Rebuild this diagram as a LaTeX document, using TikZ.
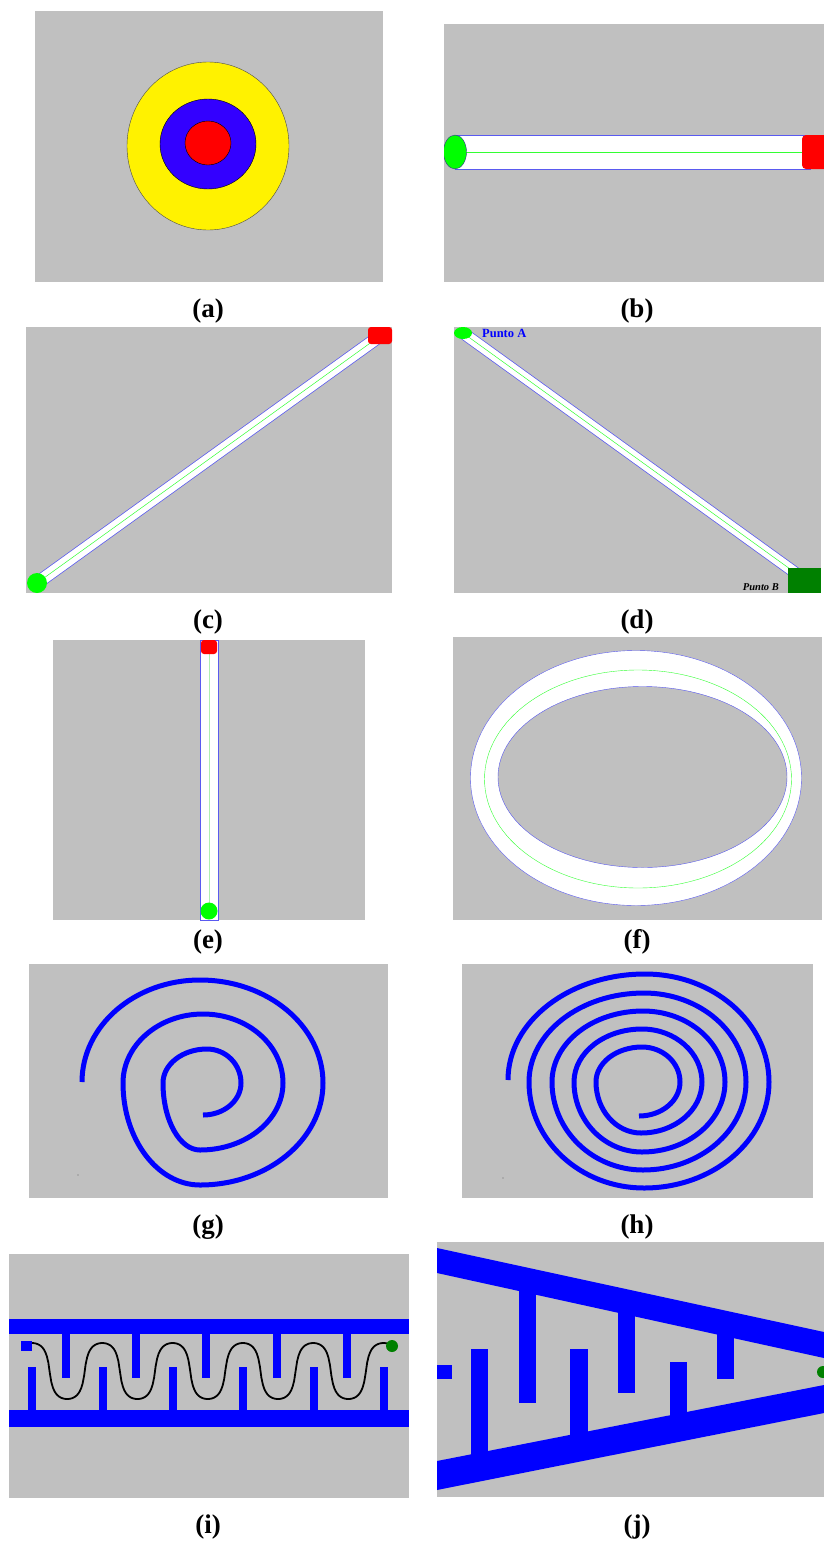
\documentclass[tikz,border=0pt]{standalone}
\usepackage{fontspec}
\setmainfont{Liberation Serif}
\definecolor{panelgray}{HTML}{C0C0C0}
\definecolor{tubeblue}{HTML}{5A5AF0}
\definecolor{tubegreen}{HTML}{33FF33}
\definecolor{palegreen}{HTML}{B0F0B0}
\definecolor{startgreen}{HTML}{00FF00}
\definecolor{darkgreen}{HTML}{008000}
\definecolor{ringblue}{HTML}{3300FF}
\definecolor{mazeblue}{HTML}{0000FF}
\begin{document}
\begin{tikzpicture}[x=1pt,y=-1pt,
    panel/.style={fill=panelgray},
    caption/.style={font=\fontsize{27}{30}\selectfont\bfseries},
    spiral/.style={mazeblue,line width=5pt},
    wall/.style={fill=mazeblue}]
\useasboundingbox (0,0) rectangle (824,1542);

% (a) target
\fill[panel] (35,11) rectangle (383,282);
\filldraw[fill=yellow,draw=black!70,thin] (208,146) circle[x radius=81pt,y radius=84pt];
\filldraw[fill=ringblue,draw=black,thin] (208,144) circle[x radius=48pt,y radius=45pt];
\filldraw[fill=red,draw=black,thin] (208,143) circle[x radius=23pt,y radius=22pt];
\node[caption] (lab-a) at (208,311) {(a)};

% (b) horizontal tube
\begin{scope}
    \clip (444,24) rectangle (824,282);
    \fill[panel] (444,24) rectangle (824,282);
    \coordinate (b-start) at (455,152);
    \coordinate (b-end) at (810,152);
    \filldraw[fill=white,draw=tubeblue] (455,135) rectangle (810,169);
    \draw[tubegreen,thin] (b-start) -- (b-end);
    \fill[red,rounded corners=4pt] (802,135) rectangle (834,169);
    \filldraw[fill=startgreen,draw=tubeblue!60!black] (b-start) circle[x radius=11.5pt,y radius=17pt];
\end{scope}
\node[caption] (lab-b) at (637,311) {(b)};

% (c) rising diagonal
\fill[panel] (26,327) rectangle (392,593);
\coordinate (c-start) at (37,583);
\coordinate (c-end) at (380,336);
\draw[tubeblue,line width=13pt] (c-start) -- (c-end);
\draw[white,line width=11.5pt] (c-start) -- (c-end);
\draw[tubegreen,line width=0.5pt] (c-start) -- (c-end);
\fill[red,rounded corners=3pt] (368,327) rectangle (392,344);
\fill[startgreen] (c-start) circle (10pt);
\node[caption] (lab-c) at (208,622) {(c)};

% (d) falling diagonal
\fill[panel] (454,327) rectangle (821,593);
\coordinate (d-start) at (463,333);
\coordinate (d-end) at (797,574);
\draw[tubeblue,line width=12pt] (d-start) -- (d-end);
\draw[white,line width=10.5pt] (d-start) -- (d-end);
\draw[tubegreen,line width=0.5pt] (d-start) -- (d-end);
\fill[darkgreen] (788,568) rectangle (821,593);
\fill[startgreen] (d-start) circle[x radius=9pt,y radius=6pt];
\node[anchor=west,inner sep=0pt,text=mazeblue,font=\fontsize{12.5}{14}\selectfont\bfseries]
    (punto-a) at (482,333) {Punto A};
\node[anchor=east,inner sep=0pt,font=\fontsize{10.5}{12}\selectfont\bfseries\itshape]
    (punto-b) at (779,587) {Punto B};
\node[caption] (lab-d) at (637,622) {(d)};

% (e) vertical tube
\fill[panel] (53,640) rectangle (365,920);
\coordinate (e-start) at (209,911);
\coordinate (e-end) at (209,650);
\filldraw[fill=white,draw=tubeblue] (200,640) rectangle (218,920);
\draw[palegreen,line width=1pt] (e-start) -- (e-end);
\fill[red,rounded corners=3pt] (201,640) rectangle (217,654);
\fill[startgreen] (e-start) circle (8.5pt);
\node[caption] (lab-e) at (208,942) {(e)};

% (f) elliptic ring
\fill[panel] (453,637) rectangle (822,920);
\filldraw[fill=white,draw=tubeblue] (636,778) circle[x radius=165.5pt,y radius=127.5pt];
\draw[tubegreen,thin] (638,779) circle[x radius=153.5pt,y radius=109pt];
\filldraw[fill=panelgray,draw=tubeblue] (642.5,777) circle[x radius=144.5pt,y radius=90.5pt];
\node[caption] (lab-f) at (637,942) {(f)};

% (g) spiral, three turns (quarter arcs: bottom, right, top, left)
\fill[panel] (29,964) rectangle (388,1198);
\coordinate (g-in) at (203,1115);
\draw[spiral] (g-in)
    \foreach \a/\rx/\ry in {90/38/32, 0/34/34, -90/44/34, -180/37/67,
                            90/83/67, 0/80/69, -90/80/69, -180/77/102,
                            90/123/102, 0/123/103, -90/118/102} {
        arc[start angle=\a, delta angle=-90, x radius=\rx, y radius=\ry]
    };
\fill[black!60] (78,1175) circle (0.7pt);
\node[caption] (lab-g) at (208,1227) {(g)};

% (h) spiral, five turns
\fill[panel] (462,964) rectangle (813,1198);
\coordinate (h-in) at (639,1116);
\draw[spiral] (h-in)
    \foreach \a/\rx/\ry in {90/41/34, 0/38/35, -90/46/35, -180/45/51,
                            90/61/51, 0/60/53, -90/68/53, -180/68/70,
                            90/83/70, 0/82/71, -90/91/71, -180/91/88,
                            90/103/88, 0/102/89, -90/115/89, -180/115/106,
                            90/125/106, 0/124/108, -90/137/106} {
        arc[start angle=\a, delta angle=-90, x radius=\rx, y radius=\ry]
    };
\fill[black!60] (503,1178) circle (0.7pt);
\node[caption] (lab-h) at (637,1227) {(h)};

% (i) comb channel
\fill[panel] (9,1254) rectangle (409,1498);
\fill[wall] (9,1319) rectangle (409,1334);
\fill[wall] (9,1410) rectangle (409,1427);
\foreach \x in {66,136,206,277,347} {
    \fill[wall] (\x-4,1330) rectangle (\x+4,1378);
}
\foreach \x in {32,103,173,243,314,384} {
    \fill[wall] (\x-4,1367) rectangle (\x+4,1414);
}
\fill[wall] (21,1341) rectangle (32,1351);
\draw[line width=1.8pt] plot[domain=32:388,samples=240]
    (\x,{1371-28*1.4*cos(5.1209*(\x-32))/(abs(cos(5.1209*(\x-32)))+0.4)});
\fill[darkgreen] (392,1346) circle (6pt);
\node[caption] (lab-i) at (208,1527) {(i)};

% (j) tapering comb
\begin{scope}
    \clip (437,1242) rectangle (824,1497);
    \fill[panel] (437,1242) rectangle (824,1497);
    \fill[wall] (437,1248) -- (824,1332) -- (824,1358) -- (437,1273) -- cycle;
    \fill[wall] (437,1461) -- (824,1385) -- (824,1413) -- (437,1490) -- cycle;
    \fill[wall] (519,1285) rectangle (536,1403);
    \fill[wall] (618,1305) rectangle (635,1393);
    \fill[wall] (717,1328) rectangle (734,1379);
    \fill[wall] (471,1349) rectangle (488,1460);
    \fill[wall] (570,1349) rectangle (588,1442);
    \fill[wall] (670,1362) rectangle (687,1422);
    \fill[wall] (437,1365) rectangle (452,1379);
    \fill[darkgreen] (823,1372) circle (6pt);
\end{scope}
\node[caption] (lab-j) at (637,1527) {(j)};
\end{tikzpicture}
\end{document}
